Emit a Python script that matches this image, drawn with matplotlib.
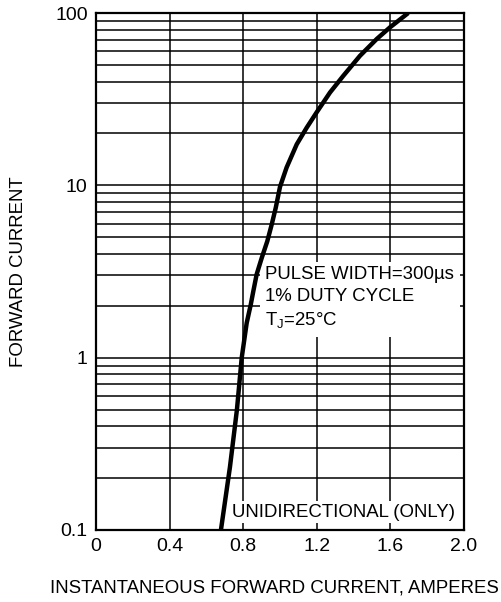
import matplotlib.pyplot as plt
from matplotlib.ticker import LogLocator, NullFormatter

plt.rcParams['font.family'] = ['Liberation Sans', 'DejaVu Sans']

# curve
amps = [0.679, 0.728, 0.766, 0.792, 0.819, 0.841, 0.855, 0.873, 0.901, 0.931,
        0.955, 0.977, 1.0, 1.036, 1.091, 1.145, 1.199, 1.272, 1.344, 1.435,
        1.526, 1.598, 1.697]
current = [0.1, 0.232, 0.5, 1.0, 1.59, 2.03, 2.43, 3.04, 3.80, 4.74,
           5.93, 7.42, 9.8, 12.7, 17.3, 21.6, 26.5, 34.6, 43.2, 56.5,
           70.7, 82.6, 100]

x_ticks = [0, 0.4, 0.8, 1.2, 1.6, 2.0]
x_labels = ['0', '0.4', '0.8', '1.2', '1.6', '2.0']
y_ticks = [0.1, 1, 10, 100]
y_labels = ['0.1', '1', '10', '100']

fig = plt.figure(figsize=(5.02, 6.02), dpi=100)
ax = fig.add_axes([96 / 502, 1 - 530 / 602, 368 / 502, 517 / 602])

ax.semilogy(amps, current, color='black', lw=3.2, solid_capstyle='butt',
            solid_joinstyle='round', zorder=3)

ax.set_xlim(0, 2.0)
ax.set_ylim(0.1, 100)
ax.set_xticks(x_ticks)
ax.set_xticklabels(x_labels)
ax.set_yticks(y_ticks)
ax.set_yticklabels(y_labels)
ax.yaxis.set_minor_locator(LogLocator(base=10, subs=range(2, 10)))
ax.yaxis.set_minor_formatter(NullFormatter())
ax.tick_params(which='both', length=0, labelsize=14, pad=6)

ax.grid(True, which='major', axis='both', color='black', lw=1.1, zorder=1)
ax.grid(True, which='minor', axis='y', color='black', lw=1.1, zorder=1)
for s in ax.spines.values():
    s.set_linewidth(1.6)
    s.set_zorder(4)

ax.set_xlabel('INSTANTANEOUS FORWARD CURRENT, AMPERES', fontsize=13.4)
ax.xaxis.set_label_coords(0.485, -0.095)
ax.set_ylabel('FORWARD CURRENT', fontsize=13.4)
ax.yaxis.set_label_coords(-0.1875, 0.5)

ax.text(0.92, 2.2, 'PULSE WIDTH=300\u00b5s\n1% DUTY CYCLE\nT$_\\mathregular{J}$=25\u00b0C',
        fontsize=13.4, va='center', ha='left', linespacing=1.4, zorder=2,
        bbox=dict(facecolor='white', edgecolor='none', pad=4))
ax.text(0.74, 0.127, 'UNIDIRECTIONAL (ONLY)', fontsize=13.4, va='center', ha='left', zorder=2,
        bbox=dict(facecolor='white', edgecolor='none', pad=2))

fig.savefig('out.png', dpi=100)
